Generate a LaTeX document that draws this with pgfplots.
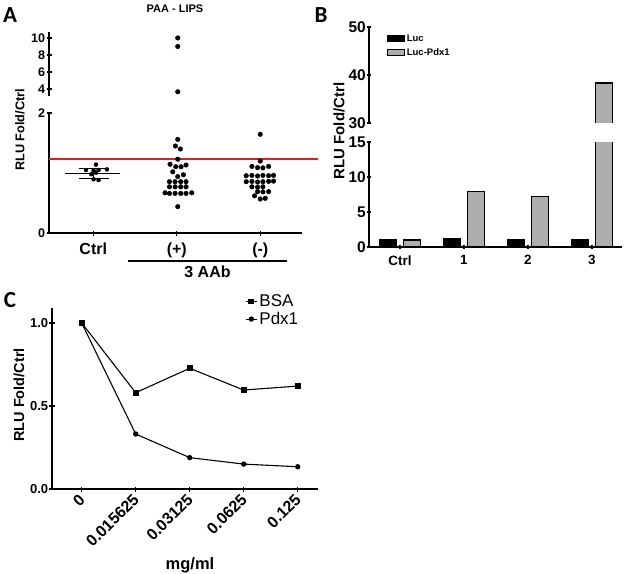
\documentclass[border=0pt]{standalone}
\usepackage{fontspec}
\setmainfont{Liberation Sans}
\newfontfamily\calfont{Carlito}
\usepackage{pgfplots}
\pgfplotsset{compat=1.18}
\definecolor{barg}{gray}{0.68}
\definecolor{refred}{RGB}{228,28,28}
\newcommand{\fs}[1]{\fontsize{#1}{#1}\selectfont}
\pgfplotsset{
  boxlegend/.style={legend image code/.code={\draw[##1, line width=1.2pt] (0pt,-3pt) rectangle (17pt,3pt);}},
  linelegend/.style={legend image code/.code={\draw[mark repeat=2,mark phase=2,##1] plot coordinates {(0pt,0pt) (5.5pt,0pt) (11pt,0pt)};}},
  noarrows/.style={x axis line style={-, line width=#1}, y axis line style={-, line width=#1}},
  every axis/.append style={
    scale only axis, anchor=south west,
    /pgf/number format/assume math mode=true,
    tick align=outside, major tick length=5pt,
    every tick/.style={black, line width=1.3pt},
  },
}
\begin{document}
\begin{tikzpicture}
\useasboundingbox (0,0) rectangle (625pt,-574pt);

% ---------------- Panel A ----------------
\node[font=\calfont\bfseries\fs{23}] at (10pt,-15pt) {A};
\node[font=\bfseries\fs{11}] at (175pt,-9pt) {PAA - LIPS};
\node[rotate=90, font=\bfseries\fs{12.7}] at (20pt,-130pt) {RLU Fold/Ctrl};

\begin{axis}[at={(49pt,-233pt)}, width=253pt, height=120pt,
  xmin=0.47, xmax=3.5, ymin=0, ymax=2,
  axis x line=bottom, axis y line=left, noarrows=1.6pt,
  xtick={1,2,3}, xticklabels={Ctrl,(+),(-)},
  ytick={0,2},
  xticklabel style={font=\bfseries\fs{16}, yshift=-4pt},
  yticklabel style={font=\bfseries\fs{12.5}, inner sep=1.2pt},
  clip=false]
\addplot[draw=refred, line width=1.5pt] coordinates {(0.47,1.23) (3.69,1.23)};
% Ctrl mean and SD
\addplot[black, line width=1.3pt] coordinates {(0.665,0.995) (1.323,0.995)};
\addplot[black, line width=1.3pt] coordinates {(0.824,1.078) (1.183,1.078)};
\addplot[black, line width=1.3pt] coordinates {(0.824,0.912) (1.183,0.912)};
\addplot[black, line width=1.3pt] coordinates {(1,0.912) (1,1.078)};
% Ctrl points
\addplot[only marks, mark=*, mark size=2pt, black] coordinates {
 (1.032,1.14) (0.913,1.05) (1.004,1.04) (1.064,1.05) (1.164,1.06)
 (0.976,0.98) (1.032,1.005) (1.004,0.895) (1.064,0.883)};
% (+) points
\addplot[only marks, mark=*, mark size=2.3pt, black] coordinates {
 (2.012,1.56) (1.984,1.45) (2.044,1.40) (2.012,1.23)
 (1.920,1.145) (1.988,1.105) (2.051,1.105) (2.111,1.133)
 (1.952,1.02) (2.080,0.97) (2.012,0.94)
 (1.913,0.855) (1.980,0.855) (2.048,0.855) (2.111,0.855)
 (1.913,0.77) (1.980,0.77) (2.048,0.77) (2.111,0.77)
 (1.860,0.67) (1.913,0.66) (1.980,0.66) (2.048,0.66) (2.111,0.66) (2.180,0.67)
 (2.012,0.44)};
% (-) points
\addplot[only marks, mark=*, mark size=2.3pt, black] coordinates {
 (3.0,1.645) (3.0,1.20)
 (2.90,1.11) (2.968,1.09) (3.032,1.085) (3.10,1.11)
 (2.832,0.955) (2.90,0.96) (2.968,0.95) (3.032,0.96) (3.10,0.955) (3.159,0.96)
 (2.832,0.855) (2.90,0.86) (2.968,0.85) (3.032,0.855) (3.10,0.86) (3.159,0.865)
 (2.90,0.77) (2.968,0.765) (3.032,0.77)
 (2.968,0.69) (3.032,0.685) (3.10,0.69)
 (2.932,0.62) (3.0,0.567) (3.06,0.578)};
\end{axis}

\begin{axis}[at={(49pt,-96pt)}, width=253pt, height=64pt,
  xmin=0.47, xmax=3.5, ymin=3.18, ymax=10.7,
  axis x line=none, axis y line=left, noarrows=1.6pt,
  ytick={4,6,8,10},
  yticklabel style={font=\bfseries\fs{12.5}, inner sep=1.2pt}]
\addplot[only marks, mark=*, mark size=2.3pt, black] coordinates {(2.012,10.0) (2.012,9.0) (2.012,3.68)};
\end{axis}

\draw[line width=2.5pt] (128pt,-261pt) -- (287pt,-261pt);
\node[font=\bfseries\fs{16}] at (207.5pt,-272pt) {3 AAb};

% ---------------- Panel B ----------------
\node[font=\calfont\bfseries\fs{23}] at (321pt,-15pt) {B};
\node[rotate=90, font=\bfseries\fs{15}] at (339pt,-131pt) {RLU Fold/Ctrl};

\begin{axis}[at={(369pt,-247pt)}, width=253pt, height=105pt,
  xmin=-0.484, xmax=3.469, ymin=0, ymax=15,
  axis x line=bottom, axis y line=left, noarrows=1.6pt,
  major tick length=4pt,
  xtick={0,1,2,3}, xticklabels={Ctrl,1,2,3},
  ytick={0,5,10,15},
  xticklabel style={font=\bfseries\fs{13.5}, yshift=-3pt},
  yticklabel style={font=\bfseries\fs{15.5}, inner sep=1pt}]
\addplot[ybar, bar width=17pt, bar shift=-12pt, fill=black, draw=black, line width=1.5pt]
  coordinates {(0,1.0) (1,1.25) (2,1.0) (3,1.1)};
\addplot[ybar, bar width=17pt, bar shift=12pt, fill=barg, draw=black, line width=1.5pt]
  coordinates {(0,1.0) (1,7.9) (2,7.2) (3,38.3)};
\end{axis}

\begin{axis}[at={(369pt,-123pt)}, width=253pt, height=96pt,
  xmin=-0.484, xmax=3.469, ymin=30, ymax=50,
  axis x line=none, axis y line=left, noarrows=1.6pt,
  major tick length=4pt,
  ytick={30,40,50},
  yticklabel style={font=\bfseries\fs{15.5}, inner sep=1pt},
  legend style={at={(0.071,0.94)}, anchor=north west, draw=none, fill=none,
    font=\bfseries\fs{9.5}, row sep=3pt, inner sep=0pt, nodes={inner sep=1.5pt}},
  legend cell align=left]
\addlegendimage{boxlegend, fill=black, draw=black}
\addlegendentry{Luc}
\addlegendimage{boxlegend, fill=barg, draw=black}
\addlegendentry{Luc-Pdx1}
% upper part of the broken Luc-Pdx1 bar for sample 3 (38.3)
\addplot[ybar, bar width=17pt, bar shift=12pt, fill=barg, draw=none, forget plot]
  coordinates {(3,38.3)};
\addplot[black, line width=1.5pt, forget plot]
  coordinates {(3.0547,30) (3.0547,38.3) (3.3203,38.3) (3.3203,30)};
\end{axis}

% ---------------- Panel C ----------------
\node[font=\calfont\bfseries\fs{23}] at (10pt,-300pt) {C};
\node[rotate=90, font=\bfseries\fs{14.5}] at (19pt,-395pt) {RLU Fold/Ctrl};
\node[font=\bfseries\fs{16.5}] at (190pt,-565pt) {mg/ml};

\begin{axis}[at={(52pt,-489pt)}, width=266pt, height=181pt,
  xmin=-0.55, xmax=4.376, ymin=0, ymax=1.09,
  axis x line=bottom, axis y line=left, noarrows=1.2pt,
  every tick/.style={black, line width=1.1pt},
  xtick={0,1,2,3,4}, xticklabels={0,0.015625,0.03125,0.0625,0.125},
  xticklabel style={rotate=45, anchor=east, font=\bfseries\fs{16}, yshift=-4pt},
  ytick={0,0.5,1}, yticklabels={0.0,0.5,1.0},
  yticklabel style={font=\bfseries\fs{13}, inner sep=1.2pt},
  legend style={at={(0.726,1.085)}, anchor=north west, draw=none, fill=none,
    font=\fs{17}, row sep=0pt, inner sep=0pt, nodes={inner sep=2pt}},
  legend cell align=left,
  clip=false]
\addplot[black, line width=1.1pt, mark=square*, mark size=2.4pt, linelegend]
  coordinates {(0,1.0) (1,0.58) (2,0.727) (3,0.596) (4,0.62)};
\addlegendentry{BSA}
\addplot[black, line width=1.1pt, mark=*, mark size=2.1pt, linelegend]
  coordinates {(0,1.0) (1,0.331) (2,0.189) (3,0.15) (4,0.134)};
\addlegendentry{Pdx1}
\end{axis}
\end{tikzpicture}
\end{document}
